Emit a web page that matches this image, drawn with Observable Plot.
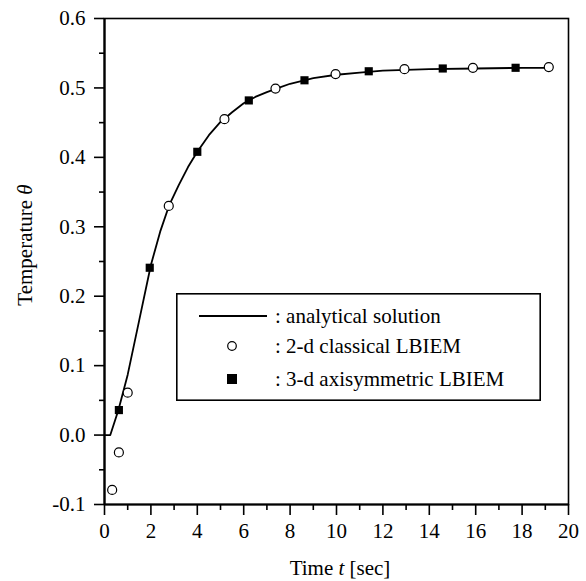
<!DOCTYPE html>
<html>
<head>
<meta charset="utf-8">
<script src="https://cdn.jsdelivr.net/npm/d3@7"></script>
<script src="https://cdn.jsdelivr.net/npm/@observablehq/plot@0.6"></script>
<style>
  html, body { margin: 0; padding: 0; background: #fff; }
  #wrap { position: relative; width: 586px; height: 581px; font-family: "Liberation Serif", "DejaVu Serif", serif; }
  .lbl { position: absolute; font-size: 21px; color: #000; white-space: nowrap; }
  #xlabel { left: 340px; top: 568px; transform: translate(-50%, -50%); }
  #ylabel { left: 25px; top: 245px; transform: translate(-50%, -50%) rotate(-90deg); }
  #legend { position: absolute; left: 176px; top: 293px; }
</style>
</head>
<body>
<div id="wrap"></div>
<script>
// analytical solution
const analyticT     = [0, 0.25, 0.6, 1.0, 1.5, 2.0, 2.4, 2.8, 3.2, 3.6, 4.0, 4.5, 5.0, 5.5, 6.0, 6.5, 7.0, 7.5, 8.0, 9.0, 10.0, 11.0, 12.0, 14.0, 16.0, 18.0, 19.2];
const analyticTheta = [0, 0.0, 0.036, 0.087, 0.166, 0.245, 0.293, 0.332, 0.360, 0.386, 0.408, 0.432, 0.451, 0.465, 0.478, 0.487, 0.494, 0.500, 0.506, 0.514, 0.519, 0.522, 0.525, 0.527, 0.528, 0.529, 0.529];
// 2-d classical LBIEM
const classicalT     = [0.33, 0.62, 1.0, 2.77, 5.17, 7.37, 9.96, 12.93, 15.88, 19.15];
const classicalTheta = [-0.079, -0.025, 0.061, 0.330, 0.455, 0.499, 0.520, 0.527, 0.529, 0.530];
// 3-d axisymmetric LBIEM
const axisymT     = [0.62, 1.95, 4.0, 6.22, 8.62, 11.39, 14.58, 17.72];
const axisymTheta = [0.036, 0.241, 0.408, 0.482, 0.511, 0.524, 0.528, 0.529];
// ticks
const xTicks = [0, 2, 4, 6, 8, 10, 12, 14, 16, 18, 20];
const xMinor = [1, 3, 5, 7, 9, 11, 13, 15, 17, 19];
const yTicks = [-0.1, 0.0, 0.1, 0.2, 0.3, 0.4, 0.5, 0.6];
const yMinor = [-0.05, 0.05, 0.15, 0.25, 0.35, 0.45, 0.55];
const legendLabels = [": analytical solution", ": 2-d classical LBIEM", ": 3-d axisymmetric LBIEM"];

const analytic  = analyticT.map((t, i) => ({t, v: analyticTheta[i]}));
const classical = classicalT.map((t, i) => ({t, v: classicalTheta[i]}));
const axisym    = axisymT.map((t, i) => ({t, v: axisymTheta[i]}));

const chart = Plot.plot({
  width: 586, height: 581,
  marginLeft: 104, marginRight: 18, marginTop: 18, marginBottom: 77,
  style: { fontFamily: '"Liberation Serif", serif', fontSize: "21px", color: "#000", background: "#fff", overflow: "visible" },
  x: { domain: [0, 20] },
  y: { domain: [-0.1, 0.6] },
  marks: [
    Plot.axisX({ ticks: xTicks, tickSize: 11, tickPadding: 8, tickFormat: d => String(d), label: null, strokeWidth: 1.6, fontSize: 21 }),
    Plot.axisX({ ticks: xMinor, tickSize: 6, tickFormat: null, text: null, label: null, strokeWidth: 1.6 }),
    Plot.axisY({ ticks: yTicks, tickSize: 10, tickPadding: 9, tickFormat: d => d.toFixed(1), label: null, strokeWidth: 1.6, fontSize: 21 }),
    Plot.axisY({ ticks: yMinor, tickSize: 5, tickFormat: null, text: null, label: null, strokeWidth: 1.6 }),
    Plot.frame({ stroke: "#000", strokeWidth: 1.6 }),
    Plot.ruleX([0], { stroke: "#000", strokeWidth: 2.2 }),
    Plot.ruleY([-0.1], { stroke: "#000", strokeWidth: 2.2 }),
    Plot.line(analytic, { x: "t", y: "v", curve: "linear", stroke: "#000", strokeWidth: 1.8, strokeLinejoin: "round" }),
    Plot.dot(classical, { x: "t", y: "v", r: 4.5, fill: "#fff", stroke: "#000", strokeWidth: 1.2 }),
    Plot.dot(axisym, { x: "t", y: "v", symbol: "square", r: 4.6, fill: "#000", stroke: "none" })
  ]
});

const wrap = document.getElementById("wrap");
wrap.appendChild(chart);

const xl = document.createElement("div");
xl.className = "lbl"; xl.id = "xlabel";
xl.innerHTML = "Time <i>t</i> [sec]";
wrap.appendChild(xl);

const yl = document.createElement("div");
yl.className = "lbl"; yl.id = "ylabel";
yl.innerHTML = "Temperature <i>θ</i>";
wrap.appendChild(yl);

// legend box
const W = 365, H = 108;
const leg = d3.create("svg").attr("id", "legend").attr("width", W).attr("height", H)
  .style("font-family", '"Liberation Serif", serif').style("font-size", "21px");
leg.append("rect").attr("x", 0.8).attr("y", 0.8).attr("width", W - 1.6).attr("height", H - 1.6)
  .attr("fill", "#fff").attr("stroke", "#000").attr("stroke-width", 1.6);
const rowY = [23, 53, 86];
leg.append("line").attr("x1", 23).attr("x2", 91).attr("y1", rowY[0]).attr("y2", rowY[0])
  .attr("stroke", "#000").attr("stroke-width", 1.8);
leg.append("circle").attr("cx", 56).attr("cy", rowY[1]).attr("r", 4.3)
  .attr("fill", "#fff").attr("stroke", "#000").attr("stroke-width", 1.2);
leg.append("rect").attr("x", 56 - 5).attr("y", rowY[2] - 5).attr("width", 10).attr("height", 10).attr("fill", "#000");
legendLabels.forEach((s, i) => {
  leg.append("text").attr("x", 99).attr("y", rowY[i]).attr("dy", "0.35em").text(s);
});
wrap.appendChild(leg.node());
</script>
</body>
</html>
